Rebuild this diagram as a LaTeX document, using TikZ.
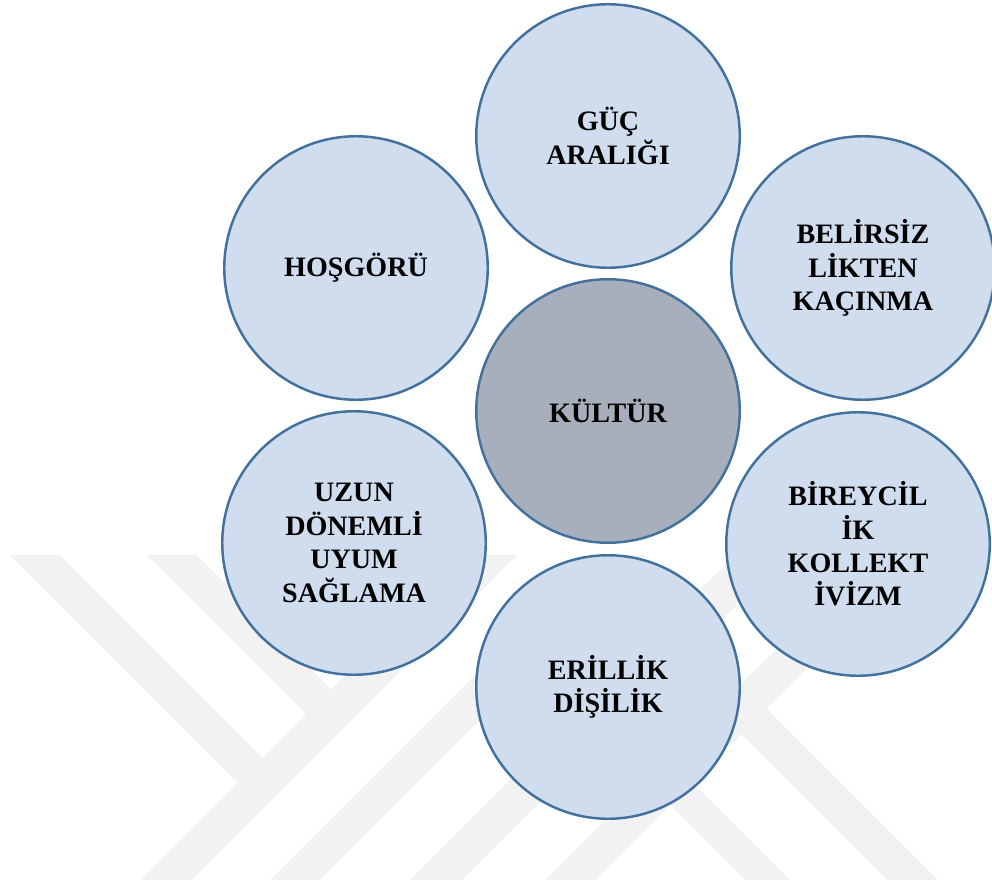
\documentclass[tikz,border=0pt]{standalone}
\usepackage{fontspec}
\setmainfont{Liberation Serif}
\definecolor{circfill}{RGB}{208,221,238}
\definecolor{corefill}{RGB}{167,175,188}
\definecolor{circline}{RGB}{65,113,156}
\definecolor{markgray}{RGB}{242,242,242}
\begin{document}
\begin{tikzpicture}[
  x=0.2mm, y=-0.2mm,
  every node/.style={font=\bfseries\fontsize{16}{19}\selectfont, draw=circline, line width=1.4pt,
    circle, fill=circfill, minimum size=52.7mm, inner sep=0pt, align=center},
  core/.style={fill=corefill},
  stripe/.style={fill=markgray, draw=none}
]
\useasboundingbox (0,0) rectangle (992,879);

\fill[stripe] (465,555) -- (517,555) -- (172,900) -- (120,900) -- cycle;
\fill[stripe] (10,555) -- (60,555) -- (272.5,767.5) -- (247.5,792.5) -- cycle;
\fill[stripe] (147,555) -- (197,555) -- (341,699) -- (316,724) -- cycle;
\fill[stripe] (595,555) -- (645,555) -- (300,900) -- (250,900) -- cycle;
\fill[stripe] (735,555) -- (787,555) -- (442,900) -- (390,900) -- cycle;
\fill[stripe] (870,555) -- (920,555) -- (575,900) -- (525,900) -- cycle;
\fill[stripe] (759,701) -- (958,900) -- (907,900) -- (733.5,726.5) -- cycle;
\fill[stripe] (620,710) -- (810,900) -- (765,900) -- (597.5,732.5) -- cycle;

\node[core] (kultur) at (608,411) {KÜLTÜR};
\node (guc) at (608,136) {GÜÇ\\ARALIĞI};
\node (belirsiz) at (863,268) {BELİRSİZ\\LİKTEN\\KAÇINMA};
\node (bireycil) at (858,544) {BİREYCİL\\İK\\KOLLEKT\\İVİZM};
\node (erillik) at (608,687) {ERİLLİK\\DİŞİLİK};
\node (uzun) at (354,543) {UZUN\\DÖNEMLİ\\UYUM\\SAĞLAMA};
\node (hosgoru) at (356,268) {HOŞGÖRÜ};
\end{tikzpicture}
\end{document}
